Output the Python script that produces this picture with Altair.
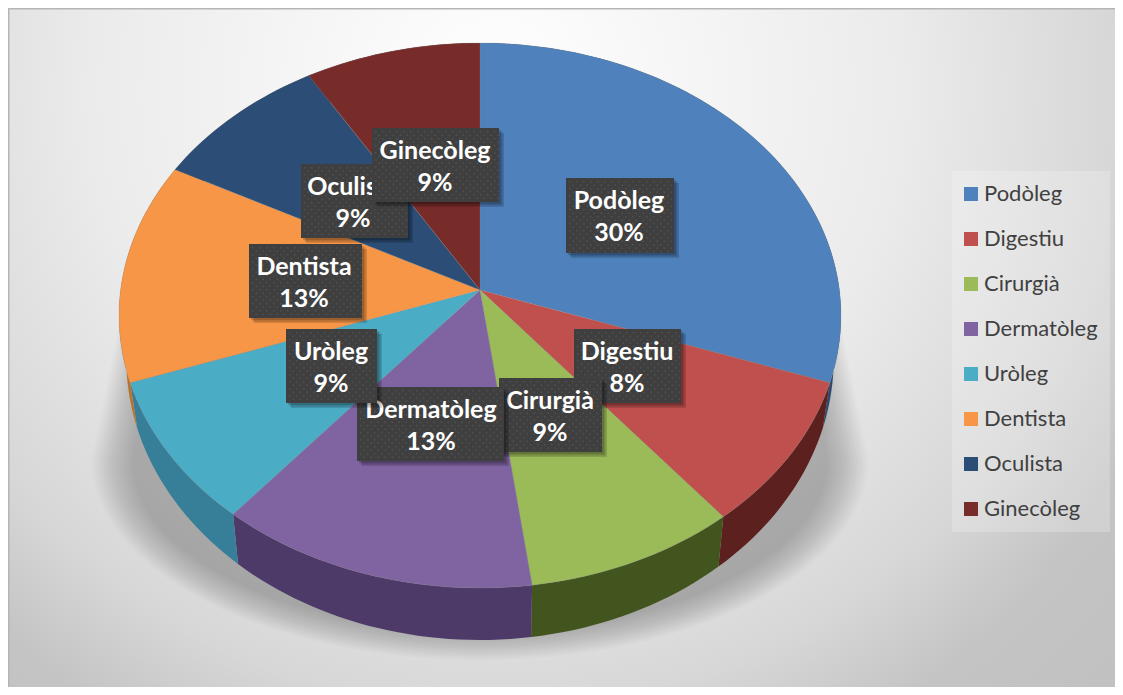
import math
import altair as alt

categories = ["Podòleg", "Digestiu", "Cirurgià", "Dermatòleg", "Uròleg", "Dentista", "Oculista", "Ginecòleg"]
shares = [30.4, 8.8, 8.7, 13.1, 8.6, 13.1, 8.7, 8.6]
percent_labels = ["30%", "8%", "9%", "13%", "9%", "13%", "9%", "9%"]
top_colors = ["#4f81bd", "#c0504d", "#9bbb59", "#8064a2", "#4bacc6", "#f79646", "#2c4d75", "#772c2a"]
side_colors = ["#2e4a70", "#5c201e", "#42551f", "#4d3a68", "#377f98", "#b8742f", "#1f3653", "#571f1e"]

W, H = 1107, 679
OX, OY = 8, 8
CX, CY = 480, 290
A, B, K = 270.1, 359.4, 0.0936
PROJ = dict(type="identity", scale=1, translate=[0, 0])

# label box layout: left, right, top, bottom, text centre x
boxes = [
    (566, 674, 178, 253, 619),
    (574, 681, 329, 403, 627),
    (499, 602, 378, 452, 550),
    (357, 504, 387, 461, 431),
    (286, 377, 329, 403, 331),
    (249, 362, 244, 318, 304),
    (301, 408, 164, 238, 353),
    (372, 499, 128, 202, 435),
]


def px(p):
    return [p[0] - OX, p[1] - OY]


def poly(points):
    ring = [px(p) for p in points]
    ring.append(ring[0])
    return {"type": "Polygon", "coordinates": [ring]}


def feature(geom, **props):
    return {"type": "Feature", "geometry": geom, "properties": props}


def top_pt(th):
    d = 1 + K * math.cos(th)
    return (CX + B * math.sin(th) / d, CY - A * math.cos(th) / d)


def wall_pt(th):
    x, y = top_pt(th)
    return (CX + (x - CX) * 0.98, y + 42 - 10 * math.cos(th))


def arc_angles(a, b):
    n = max(2, int(abs(b - a) / math.radians(1.5)))
    return [a + (b - a) * i / n for i in range(n + 1)]


def geo(features, mark):
    return alt.Chart(alt.Data(values=features, format=alt.DataFormat(type="json"))).mark_geoshape(**mark).project(**PROJ)


# background
bg_grad = alt.RadialGradient(
    gradient="radial", x1=0.46, y1=0.05, x2=0.46, y2=0.05, r1=0, r2=1,
    stops=[
        alt.GradientStop(offset=0, color="#ffffff"),
        alt.GradientStop(offset=0.25, color="#ebebeb"),
        alt.GradientStop(offset=0.38, color="#d7d7d7"),
        alt.GradientStop(offset=0.45, color="#c4c4c4"),
        alt.GradientStop(offset=0.65, color="#bcbcbc"),
    ],
)
bg = geo([feature(poly([(OX, OY), (OX + W, OY), (OX + W, OY + H * 2.4), (OX, OY + H * 2.4)]))], dict(fill=bg_grad))
frame = geo(
    [
        feature(poly([(OX, OY), (OX + W, OY), (OX + W, OY + 1.5), (OX, OY + 1.5)])),
        feature(poly([(OX, OY), (OX + 1.5, OY), (OX + 1.5, OY + H), (OX, OY + H)])),
    ],
    dict(fill="#b5b5b5"),
)
legend_box = geo([feature(poly([(952, 171), (1110, 171), (1110, 532), (952, 532)]))], dict(fill="#ffffff", fillOpacity=0.22))

# soft shadow under the pie
shadow_feats = []
N = 16
for i in range(N):
    f = i / (N - 1)
    rx, ry = 385 - 40 * f, 200 - 28 * f
    cy = 460
    pts = [(CX + 360 - 30 * f, 320), (CX + rx + 3, cy)]
    for deg in range(0, 181, 4):
        t = math.radians(deg)
        pts.append((CX + 3 * math.cos(t) + rx * math.cos(t), cy + ry * math.sin(t)))
    pts.append((CX - 360 + 30 * f, 320))
    shadow_feats.append(feature(poly(pts)))
shadow = geo(shadow_feats, dict(fill="#000000", fillOpacity=0.017))

# slices
cum = 0.0
wall_feats, top_feats = [], []
for name, s, side in zip(categories, shares, side_colors):
    a = 2 * math.pi * cum / 100
    cum += s
    b = 2 * math.pi * cum / 100
    angs = arc_angles(a, b)
    wall_feats.append(feature(poly([top_pt(t) for t in angs] + [wall_pt(t) for t in reversed(angs)]), side=side))
    top_feats.append(feature(poly([(CX, CY)] + [top_pt(t) for t in angs]), name=name))

walls = geo(wall_feats, dict()).encode(fill=alt.Fill("properties.side:N", scale=None))
tops = geo(top_feats, dict(stroke="#8a8a8a", strokeWidth=0.4, strokeOpacity=0.6)).encode(
    color=alt.Color(
        "properties.name:N",
        scale=alt.Scale(domain=categories, range=top_colors),
        sort=categories,
        legend=alt.Legend(
            orient="none", legendX=952 - OX, legendY=175 - OY, title=None,
            symbolType="square", symbolSize=196, symbolStrokeWidth=0, symbolOpacity=1,
            labelFont="Lato", labelFontSize=22, labelColor="#404040", labelOffset=2,
            labelLimit=200, rowPadding=23, padding=8,
        ),
    )
)

# label boxes
label_layers = []
for name, pct, (l, r, t, b, cx) in zip(categories, percent_labels, boxes):
    sh = [feature(poly([(l + d, t + d), (r + d, t + d), (r + d, b + d), (l + d, b + d)])) for d in (2, 3.5, 5)]
    label_layers.append(geo(sh, dict(fill="#000000", fillOpacity=0.14)))
    label_layers.append(geo([feature(poly([(l, t), (r, t), (r, b), (l, b)]))], dict(fill="#3f3f3f")))
    dots = []
    row = 0
    yy = t + 3
    while yy < b - 1:
        xx = l + 3 + (3.5 if row % 2 else 0)
        while xx < r - 1:
            dots.append([[px((xx, yy)), px((xx + 1.5, yy)), px((xx + 1.5, yy + 1.5)), px((xx, yy + 1.5)), px((xx, yy))]])
            xx += 7
        yy += 3.5
        row += 1
    label_layers.append(geo([feature({"type": "MultiPolygon", "coordinates": dots})], dict(fill="#515151")))
    mid = (t + b) / 2
    rows = [
        {"x": cx - OX, "y": mid - 14.5 - OY, "t": name},
        {"x": cx - OX, "y": mid + 17.5 - OY, "t": pct},
    ]
    label_layers.append(
        alt.Chart(alt.Data(values=rows))
        .mark_text(font="Lato", fontWeight="bold", fontSize=25, color="white", baseline="middle", align="center")
        .encode(longitude="x:Q", latitude="y:Q", text="t:N")
        .project(**PROJ)
    )

chart = (
    alt.layer(bg, frame, legend_box, shadow, walls, tops, *label_layers)
    .properties(width=W, height=H, padding=0, autosize=alt.AutoSizeParams(type="none"), background="white")
    .configure_view(stroke=None)
    .resolve_scale(color="independent", fill="independent")
)
chart.save("out.html", embed_options={"renderer": "svg", "actions": False})
